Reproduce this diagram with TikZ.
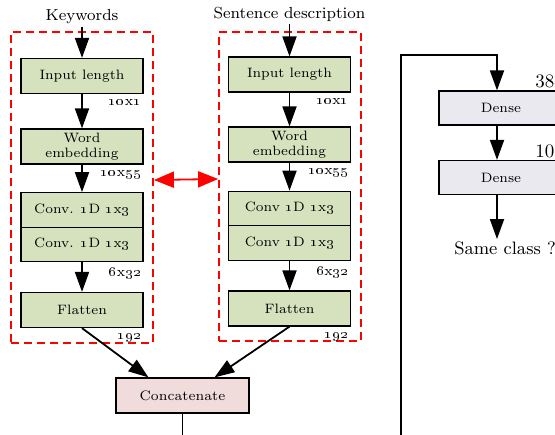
\documentclass[tikz,border=0pt]{standalone}
\usepackage{tikz}
\usetikzlibrary{arrows.meta, positioning}

\definecolor{layergreen}{RGB}{214,226,190}
\definecolor{concatpink}{RGB}{240,220,218}
\definecolor{densegray}{RGB}{235,233,240}
\newcommand{\osn}[1]{\oldstylenums{#1}}

\begin{document}
\begin{tikzpicture}[x=0.5pt, y=-0.5pt,
  layer/.style={draw, line width=0.6pt, fill=layergreen, minimum width=61pt, minimum height=17.5pt, inner sep=0pt, align=center, font=\fontsize{6.8}{7.5}\selectfont},
  concat/.style={draw, line width=0.6pt, fill=concatpink, minimum width=66.5pt, minimum height=17.5pt, inner sep=0pt, font=\fontsize{6.9}{8}\selectfont},
  dense/.style={draw, line width=0.6pt, fill=densegray, minimum width=62pt, minimum height=17pt, inner sep=0pt, font=\fontsize{6.8}{8}\selectfont},
  group/.style={draw=red, line width=0.9pt, dash pattern=on 4pt off 2.5pt, minimum width=71pt, inner sep=0pt},
  title/.style={font=\fontsize{8}{9}\selectfont, inner sep=1pt},
  dimlbl/.style={font=\fontsize{7}{8}\selectfont, inner sep=1pt, anchor=north east},
  outlbl/.style={font=\fontsize{9.5}{10}\selectfont, inner sep=1pt, anchor=south west},
  arrow/.style={line width=0.9pt, -{Triangle[length=10pt, width=7pt]}},
  link/.style={red, line width=0.9pt, {Triangle[length=10pt, width=8pt]}-{Triangle[length=10pt, width=8pt]}},
  plain/.style={line width=0.9pt}
]
\useasboundingbox (0,0) rectangle (555,434);
\clip (0,0) rectangle (555,434);

% Keywords branch
\node[title] (kw) at (82,17) {Keywords};
\node[layer] (inL) at (82,76) {Input length};
\node[layer] (weL) at (82,146.5) {Word\\embedding};
\node[layer, minimum height=17.25pt] (c1L) at (82,210) {Conv. \osn{1}D \osn{1}x\osn{3}};
\node[layer, minimum height=17.25pt] (c2L) at (82,244.5) {Conv. \osn{1}D \osn{1}x\osn{3}};
\node[layer] (flL) at (82,310) {Flatten};
\node[group, minimum height=155.5pt] (grpL) at (82,187.5) {};

\node[dimlbl] at ([yshift=-1.5pt]inL.south east) {\osn{10}x\osn{1}};
\node[dimlbl] at ([yshift=-1.5pt]weL.south east) {\osn{10}x\osn{55}};
\node[dimlbl] at ([yshift=-1.5pt]c2L.south east) {\osn{6}x\osn{32}};
\node[dimlbl] at ([yshift=-1.5pt]flL.south east) {\osn{192}};

\draw[arrow] (kw) -- (inL);
\draw[arrow] (inL) -- (weL);
\draw[arrow] (weL) -- (c1L);
\draw[arrow] (c2L) -- (flL);

% Sentence branch
\node[title] (sd) at (289.5,14) {Sentence description};
\node[layer] (inR) at (289.5,74.5) {Input length};
\node[layer] (weR) at (289.5,144.5) {Word\\embedding};
\node[layer, minimum height=17.25pt] (c1R) at (289.5,208.5) {Conv \osn{1}D \osn{1}x\osn{3}};
\node[layer, minimum height=17.25pt] (c2R) at (289.5,243) {Conv \osn{1}D \osn{1}x\osn{3}};
\node[layer] (flR) at (289.5,308.5) {Flatten};
\node[group, minimum height=154.5pt] (grpR) at (290,186.5) {};

\node[dimlbl] at ([yshift=-1.5pt]inR.south east) {\osn{10}x\osn{1}};
\node[dimlbl] at ([yshift=-1.5pt]weR.south east) {\osn{10}x\osn{55}};
\node[dimlbl] at ([yshift=-1.5pt]c2R.south east) {\osn{6}x\osn{32}};
\node[dimlbl] at ([yshift=-1.5pt]flR.south east) {\osn{192}};

\draw[arrow] (sd) -- (inR);
\draw[arrow] (inR) -- (weR);
\draw[arrow] (weR) -- (c1R);
\draw[arrow] (c2R) -- (flR);

% shared weights
\draw[link] ([yshift=3.75pt]grpL.east) -- ([yshift=3.75pt]grpR.west);

% Merge
\node[concat] (cat) at (182.5,395.5) {Concatenate};
\draw[arrow] (flL.south) -- ([xshift=-17pt]cat.north);
\draw[arrow] (flR.south) -- ([xshift=16pt]cat.north);
\coordinate (catout) at (182.5,450);
\draw[plain] (cat) -- (catout);

% Classifier head
\node[dense] (d1) at (501,108) {Dense};
\node[dense] (d2) at (501,177.5) {Dense};
\node[font=\fontsize{9}{10}\selectfont, inner sep=1pt] (same) at (505,248) {Same class ?};
\node[outlbl] at ([xshift=16pt]d1.north) {384};
\node[outlbl] at ([xshift=16pt]d2.north) {100};

\coordinate (loopin) at (401,450);
\coordinate (looptop) at (497,55);
\draw[arrow] (loopin) |- (looptop) -- (looptop |- d1.north);
\draw[arrow] (d1.south -| looptop) -- (d2.north -| looptop);
\draw[arrow] (d2.south -| looptop) -- (same.north -| looptop);
\end{tikzpicture}
\end{document}
